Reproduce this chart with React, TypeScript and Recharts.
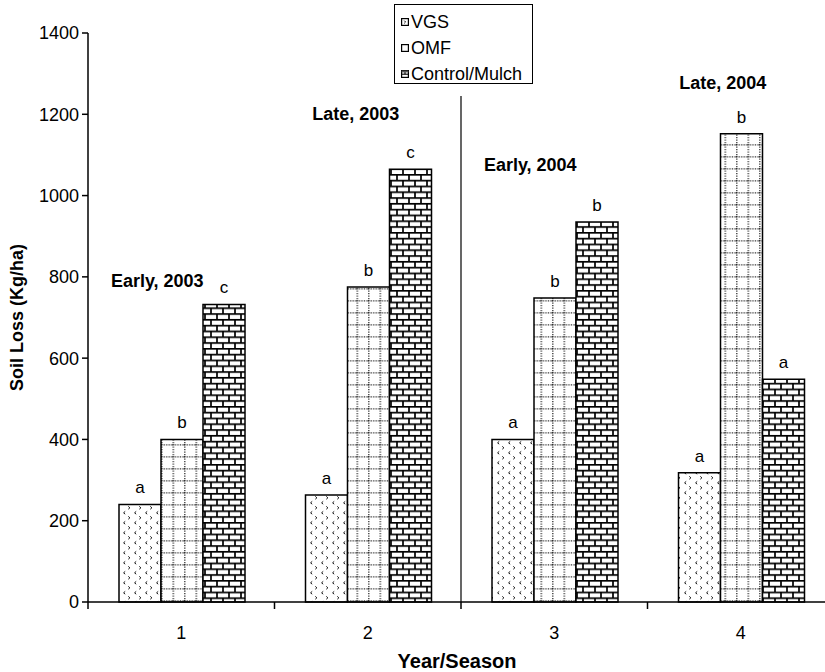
import {
  BarChart,
  Bar,
  XAxis,
  YAxis,
  Legend,
  LabelList,
  ReferenceLine,
  ReferenceDot,
} from 'recharts';

const seasons = ['1', '2', '3', '4'];
const seasonNames = ['Early, 2003', 'Late, 2003', 'Early, 2004', 'Late, 2004'];
const seasonNameHeights = [775, 1186, 1060, 1262];

const vgs = [240, 263, 400, 318];
const omf = [400, 775, 748, 1152];
const controlMulch = [732, 1065, 935, 548];

const vgsLetters = ['a', 'a', 'a', 'a'];
const omfLetters = ['b', 'b', 'b', 'b'];
const controlLetters = ['c', 'c', 'b', 'a'];

const yTicks = [0, 200, 400, 600, 800, 1000, 1200, 1400];

// chart geometry
const CHART_W = 850;
const CHART_H = 672;
const MARGIN = { top: 33, right: 16, bottom: 0, left: 0 };
const Y_AXIS_W = 88;
const X_AXIS_H = 70;
const PLOT_W = CHART_W - MARGIN.left - MARGIN.right - Y_AXIS_W;
const PLOT_BOTTOM = CHART_H - MARGIN.bottom - X_AXIS_H;
const HALF_BAND = PLOT_W / seasons.length / 2;
const nameShift = [-24, -12, -24, -18];

const FONT = '"Liberation Sans", Arial, sans-serif';

const data = seasons.map((s, i) => ({
  season: s,
  vgs: vgs[i],
  omf: omf[i],
  control: controlMulch[i],
  vgsSig: vgsLetters[i],
  omfSig: omfLetters[i],
  controlSig: controlLetters[i],
}));

const renderLetter = (props: any) => {
  const { x, y, width, value } = props;
  return (
    <text
      x={Number(x) + Number(width) / 2}
      y={Number(y) - 11}
      textAnchor="middle"
      fontSize={17}
      fontFamily={FONT}
      fill="#000"
    >
      {value}
    </text>
  );
};

const SeasonTick = (props: any) => {
  const { x, payload, index } = props;
  return (
    <g>
      <line x1={x - HALF_BAND} y1={PLOT_BOTTOM} x2={x - HALF_BAND} y2={PLOT_BOTTOM + 7} stroke="#000" strokeWidth={1.5} />
      {index === seasons.length - 1 && (
        <line x1={x + HALF_BAND} y1={PLOT_BOTTOM} x2={x + HALF_BAND} y2={PLOT_BOTTOM + 7} stroke="#000" strokeWidth={1.5} />
      )}
      <text x={x} y={PLOT_BOTTOM + 37} textAnchor="middle" fontSize={18} fontFamily={FONT} fill="#000">
        {payload.value}
      </text>
    </g>
  );
};

const legendItems = [
  { label: 'VGS', icon: 'vgs' },
  { label: 'OMF', icon: 'omf' },
  { label: 'Control/Mulch', icon: 'control' },
];

function LegendIcon({ kind }: { kind: string }) {
  return (
    <svg width={8} height={8} style={{ marginRight: 2, flexShrink: 0 }}>
      <rect x={0.6} y={0.6} width={6.8} height={6.8} fill="#fff" stroke="#000" strokeWidth={1.2} />
      {kind === 'vgs' && <path d="M3.2 2.6 L4.6 4 L3.2 5.4" fill="none" stroke="#000" strokeWidth={0.9} />}
      {kind === 'control' && (
        <g stroke="#000" strokeWidth={1.1}>
          <line x1={0.6} y1={4.2} x2={7.4} y2={4.2} />
          <line x1={4} y1={0.6} x2={4} y2={4.2} />
          <rect x={0.6} y={0.6} width={6.8} height={1.8} fill="#555" stroke="none" />
        </g>
      )}
    </svg>
  );
}

const renderLegend = () => (
  <div
    style={{
      border: '1.5px solid #000',
      background: '#fff',
      width: 139,
      height: 80,
      boxSizing: 'border-box',
      padding: '4px 0 0 6px',
      fontFamily: FONT,
      fontSize: 18,
      color: '#000',
    }}
  >
    {legendItems.map((item) => (
      <div key={item.label} style={{ display: 'flex', alignItems: 'center', height: 26, lineHeight: '26px' }}>
        <LegendIcon kind={item.icon} />
        <span>{item.label}</span>
      </div>
    ))}
  </div>
);

export default function App() {
  return (
    <div style={{ position: 'absolute', left: 0, top: 0, width: 825, height: 672, overflow: 'hidden', background: '#fff' }}>
      <BarChart width={CHART_W} height={CHART_H} data={data} margin={MARGIN} barCategoryGap={31} barGap={0}>
        <defs>
          <pattern id="pat-vgs" width={11} height={10} patternUnits="userSpaceOnUse">
            <rect width={11} height={10} fill="#fff" />
            <path d="M4.2 1.4 L2.6 2.8 L4.2 4.2" fill="none" stroke="#111" strokeWidth={1} />
            <path d="M7.3 6.4 L8.9 7.8 L7.3 9.2" fill="none" stroke="#111" strokeWidth={1} />
          </pattern>
          <pattern id="pat-omf" width={11.5} height={12} patternUnits="userSpaceOnUse">
            <rect width={11.5} height={12} fill="#fff" />
            <line x1={0.8} y1={0} x2={0.8} y2={12} stroke="#222" strokeWidth={1.2} strokeDasharray="1.2 1.3" />
            <line x1={0} y1={0.8} x2={11.5} y2={0.8} stroke="#222" strokeWidth={1.2} strokeDasharray="1.2 1.3" />
          </pattern>
          <pattern id="pat-brick" width={12} height={11.6} patternUnits="userSpaceOnUse">
            <rect width={12} height={11.6} fill="#fff" />
            <g stroke="#000" strokeWidth={1.7}>
              <line x1={0} y1={0.8} x2={12} y2={0.8} />
              <line x1={0} y1={6.6} x2={12} y2={6.6} />
              <line x1={1} y1={0} x2={1} y2={6.6} />
              <line x1={7} y1={6.6} x2={7} y2={11.6} />
            </g>
          </pattern>
        </defs>
        <XAxis
          dataKey="season"
          height={X_AXIS_H}
          axisLine={{ stroke: '#000', strokeWidth: 1.5 }}
          tickLine={false}
          tick={<SeasonTick />}
          interval={0}
          label={{
            value: 'Year/Season',
            position: 'insideBottom',
            offset: 4,
            dx: -4,
            style: { fontSize: 20, fontWeight: 'bold', fontFamily: FONT, fill: '#000' },
          }}
        />
        <YAxis
          width={Y_AXIS_W}
          domain={[0, 1400]}
          ticks={yTicks}
          interval={0}
          axisLine={{ stroke: '#000', strokeWidth: 1.5 }}
          tickLine={{ stroke: '#000', strokeWidth: 1.5 }}
          tickSize={6}
          tickMargin={3}
          tick={{ fontSize: 18, fontFamily: FONT, fill: '#000' }}
          label={{
            content: (p: any) => {
              const vb = p.viewBox;
              const cx = 17;
              const cy = vb.y + vb.height / 2;
              return (
                <text
                  x={cx}
                  y={cy}
                  transform={`rotate(-90, ${cx}, ${cy})`}
                  textAnchor="middle"
                  dominantBaseline="central"
                  fontSize={18}
                  fontWeight="bold"
                  fontFamily={FONT}
                  fill="#000"
                >
                  Soil Loss (Kg/ha)
                </text>
              );
            },
          }}
        />
        <Legend
          layout="vertical"
          align="center"
          verticalAlign="middle"
          content={renderLegend}
          wrapperStyle={{ left: 394, top: 4, width: 139, height: 80 }}
        />
        <ReferenceLine
          segment={[
            { x: '3', y: 0 },
            { x: '3', y: 1245 },
          ]}
          position="start"
          stroke="#000"
          strokeWidth={1.2}
        />
        <Bar dataKey="vgs" name="VGS" fill="url(#pat-vgs)" stroke="#000" strokeWidth={1.5} isAnimationActive={false}>
          <LabelList dataKey="vgsSig" content={renderLetter} />
        </Bar>
        <Bar dataKey="omf" name="OMF" fill="url(#pat-omf)" stroke="#000" strokeWidth={1.5} isAnimationActive={false}>
          <LabelList dataKey="omfSig" content={renderLetter} />
        </Bar>
        <Bar dataKey="control" name="Control/Mulch" fill="url(#pat-brick)" stroke="#000" strokeWidth={1.5} isAnimationActive={false}>
          <LabelList dataKey="controlSig" content={renderLetter} />
        </Bar>
        {seasons.map((s, i) => (
          <ReferenceDot
            key={s}
            x={s}
            y={seasonNameHeights[i]}
            r={0}
            shape={(p: any) => (
              <text
                x={p.cx + nameShift[i]}
                y={p.cy}
                textAnchor="middle"
                fontSize={18}
                fontWeight="bold"
                fontFamily={FONT}
                fill="#000"
              >
                {seasonNames[i]}
              </text>
            )}
          />
        ))}
      </BarChart>
    </div>
  );
}
